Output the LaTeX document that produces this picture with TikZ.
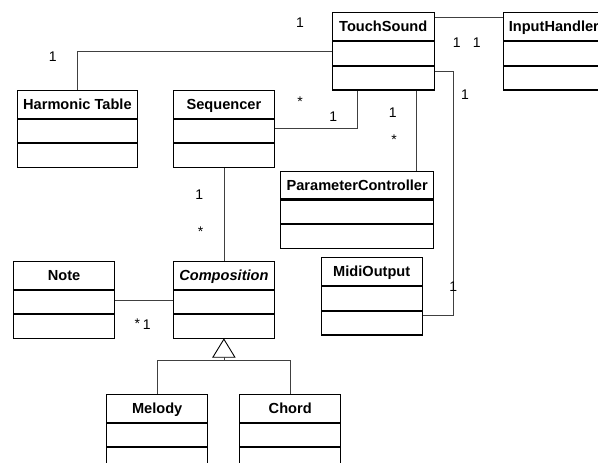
\documentclass[tikz,border=0pt]{standalone}
\usepackage{fontspec}
\setmainfont{Liberation Sans}
\usetikzlibrary{calc}
\newcommand\ClassBox[5]{%
  \node[hdr, minimum width=#4] (#1) at (#2,#3) {#5};
  \node[cmp, minimum width=#4, minimum height=23.4pt] (#1-a) at (#1.south) {};
  \node[cmp, minimum width=#4, minimum height=23.8pt] (#1-o) at (#1-a.south) {};
}
\begin{document}
\begin{tikzpicture}[x=1pt,y=-1pt,
  hdr/.style={draw, line width=1.1pt, anchor=north west, inner sep=0pt,
    minimum height=27.7pt, text height=10.4pt, text depth=0pt,
    font=\fontsize{14.6pt}{16pt}\selectfont\bfseries},
  cmp/.style={draw, line width=1.1pt, anchor=north, inner sep=0pt},
  conn/.style={draw=black!75, line width=0.8pt},
  mult/.style={anchor=base, inner sep=0pt, font=\fontsize{14pt}{16pt}\selectfont}]
\clip (0,0) rectangle (598,463);
\fill[white] (0,0) rectangle (598,463);
% classes
\ClassBox{ts}{331.7}{12.3}{102pt}{TouchSound}
\ClassBox{ih}{503.3}{12.3}{100pt}{InputHandler}
\ClassBox{ht}{16.7}{90}{120.3pt}{Harmonic Table}
\ClassBox{seq}{172.7}{90}{101.3pt}{Sequencer}
\ClassBox{pc}{280}{170.7}{153.3pt}{ParameterController}
\ClassBox{mo}{320.7}{257.3}{101pt}{MidiOutput}
\ClassBox{note}{12.7}{261}{101.6pt}{Note}
\ClassBox{comp}{172.7}{261}{101.3pt}{\itshape Composition}
\ClassBox{mel}{106}{394}{101.3pt}{Melody}
\ClassBox{ch}{239.3}{394}{100.7pt}{Chord}
% connectors
\coordinate (tsl) at ($(ts-a.north west)+(0,10)$);
\draw[conn] (ht.north) |- (tsl);
\coordinate (tsb1) at ($(ts-o.south west)+(26,0)$);
\coordinate (seqr) at ($(seq-a.north east)+(0,10)$);
\draw[conn] (seqr) -| (tsb1);
\coordinate (tsb2) at ($(ts-o.south west)+(85,0)$);
\draw[conn] (tsb2) -- (tsb2 |- pc.north);
\coordinate (tsr) at ($(ts-o.north east)+(0,5.3)$);
\coordinate (mor) at ($(mo-o.north east)+(0,4.3)$);
\coordinate (bend) at (453.3,0);
\draw[conn] (tsr) -- (tsr -| bend) -- (bend |- mor) -- (mor);
\coordinate (tsh) at ($(ts.north east)+(0,5)$);
\coordinate (ihh) at ($(ih.north west)+(0,5)$);
\draw[conn] (tsh) -- (ihh);
\draw[conn] (seq-o.south) -- (comp.north);
\coordinate (notr) at ($(note-a.north east)+(0,10.7)$);
\draw[conn] (notr) -- (notr -| comp.west);
% generalization
\coordinate (tb) at ($(comp-o.south)+(0,18)$);
\draw[line width=0.9pt, fill=white] (comp-o.south) -- ($(tb)+(-11,0)$) -- ($(tb)+(11,0)$) -- cycle;
\coordinate (gl) at ($(tb)+(0,3.4)$);
\draw[conn] (tb) -- (gl);
\draw[conn] (mel.north) -- (mel.north |- gl) -- (ch.north |- gl) -- (ch.north);
% multiplicities
\node[mult] (m1) at (300,27.7) {1};
\node[mult] (m2) at (52.7,61) {1};
\node[mult] (m3) at (456.7,47.7) {1};
\node[mult] (m4) at (476.7,47.7) {1};
\node[mult] (m5) at (300,106) {*};
\node[mult] (m6) at (333.3,121.7) {1};
\node[mult] (m7) at (392.7,117.3) {1};
\node[mult] (m8) at (394,144.5) {*};
\node[mult] (m9) at (465,99) {1};
\node[mult] (m10) at (453.3,291.7) {1};
\node[mult] (m11) at (199.3,199.3) {1};
\node[mult] (m12) at (200.7,236.5) {*};
\node[mult] (m13) at (137.3,328) {*};
\node[mult] (m14) at (146.7,329) {1};
\end{tikzpicture}
\end{document}
